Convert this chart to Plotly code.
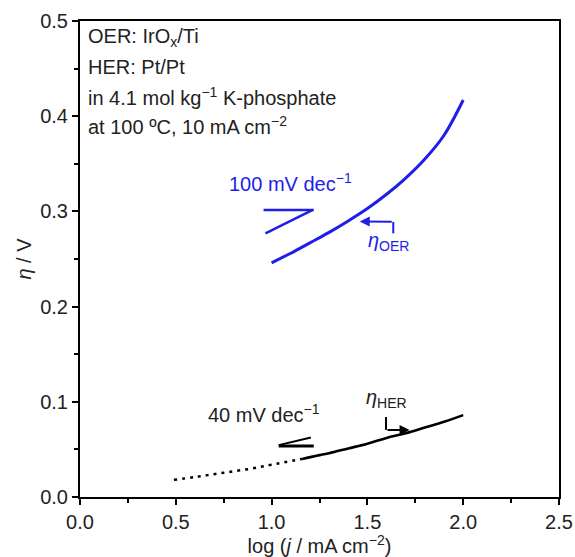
import plotly.graph_objects as go

# OER overpotential vs log j
oer_x = [1.0, 1.1, 1.2, 1.3, 1.4, 1.5, 1.6, 1.7, 1.8, 1.9, 2.0]
oer_y = [0.246, 0.256, 0.267, 0.278, 0.290, 0.303, 0.318, 0.335, 0.355, 0.380, 0.417]

# HER overpotential: dotted (low current) and solid parts
her_dot_x = [0.49, 0.6, 0.7, 0.8, 0.9, 1.0, 1.16]
her_dot_y = [0.018, 0.021, 0.024, 0.027, 0.030, 0.034, 0.040]
her_x = [1.16, 1.25, 1.3, 1.4, 1.5, 1.6, 1.7, 1.8, 1.9, 2.0]
her_y = [0.040, 0.044, 0.046, 0.051, 0.056, 0.062, 0.067, 0.073, 0.079, 0.086]

BLUE = "#1e1ee8"
FONT = "Liberation Sans, Arial, sans-serif"
TXT = "#222222"
FS = 20

fig = go.Figure()
fig.add_trace(go.Scatter(x=oer_x, y=oer_y, mode="lines",
                         line=dict(color=BLUE, width=3, shape="spline"), showlegend=False))
fig.add_trace(go.Scatter(x=her_dot_x, y=her_dot_y, mode="lines",
                         line=dict(color="black", width=2.5, dash="3px,5px", shape="spline"),
                         showlegend=False))
fig.add_trace(go.Scatter(x=her_x, y=her_y, mode="lines",
                         line=dict(color="black", width=2.6, shape="spline"), showlegend=False))

shapes = [
    # OER slope triangle (100 mV/dec)
    dict(type="line", x0=0.958, y0=0.3015, x1=1.220, y1=0.3015, line=dict(color=BLUE, width=2.5)),
    dict(type="line", x0=0.968, y0=0.277, x1=1.215, y1=0.3015, line=dict(color=BLUE, width=2.5)),
    # OER arrow bracket
    dict(type="line", x0=1.635, y0=0.289, x1=1.635, y1=0.277, line=dict(color=BLUE, width=2)),
    # HER slope triangle (40 mV/dec)
    dict(type="line", x0=1.037, y0=0.0535, x1=1.22, y1=0.0535, line=dict(color="black", width=3)),
    dict(type="line", x0=1.037, y0=0.0545, x1=1.205, y1=0.0625, line=dict(color="black", width=2)),
    # HER arrow bracket
    dict(type="line", x0=1.597, y0=0.084, x1=1.597, y1=0.0705, line=dict(color="black", width=2)),
]

W, H = 575, 557
L, R, T, B = 80, 16, 21, 60
pw, ph = W - L - R, H - T - B

anns = []
info = ["OER: IrO<sub>x</sub>/Ti", "HER: Pt/Pt",
        "in 4.1 mol kg<sup>−1</sup> K-phosphate", "at 100 ºC, 10 mA cm<sup>−2</sup>"]
for i, t in enumerate(info):
    anns.append(dict(x=(86 - L) / pw, y=1 - (38 + 29 * i - T) / ph, xref="paper", yref="paper",
                     text=t, showarrow=False, xanchor="left", yanchor="middle",
                     font=dict(size=FS, color=TXT, family=FONT)))

anns += [
    dict(x=1.10, y=0.330, text="100 mV dec<sup>−1</sup>", showarrow=False, xanchor="center",
         font=dict(size=FS, color=BLUE, family=FONT)),
    dict(x=1.46, y=0.2895, ax=1.635, ay=0.289, xref="x", yref="y", axref="x", ayref="y",
         text="", showarrow=True, arrowhead=2, arrowsize=1, arrowwidth=2, arrowcolor=BLUE),
    dict(x=1.61, y=0.268, text="<i>η</i><sub>OER</sub>", showarrow=False, xanchor="center",
         font=dict(size=FS, color=BLUE, family=FONT)),
    dict(x=0.96, y=0.088, text="40 mV dec<sup>−1</sup>", showarrow=False, xanchor="center",
         font=dict(size=FS, color=TXT, family=FONT)),
    dict(x=1.72, y=0.0705, ax=1.597, ay=0.0705, xref="x", yref="y", axref="x", ayref="y",
         text="", showarrow=True, arrowhead=2, arrowsize=1, arrowwidth=2, arrowcolor="black"),
    dict(x=1.60, y=0.103, text="<i>η</i><sub>HER</sub>", showarrow=False, xanchor="center",
         font=dict(size=FS, color=TXT, family=FONT)),
]

fig.update_layout(
    width=W, height=H, margin=dict(l=L, r=R, t=T, b=B),
    paper_bgcolor="white", plot_bgcolor="white",
    shapes=shapes, annotations=anns,
    font=dict(family=FONT, size=FS, color=TXT),
    xaxis=dict(range=[0, 2.5], showgrid=False, zeroline=False, showline=True, linewidth=2,
               linecolor="black", mirror=True, ticks="outside", ticklen=6, tickwidth=2,
               tickcolor="black", dtick=0.5, tick0=0, tickformat=".1f", automargin=False,
               minor=dict(ticks="outside", ticklen=4, tickwidth=1.5, tickcolor="black", dtick=0.25),
               title=dict(text="log (<i>j</i> / mA cm<sup>−2</sup>)", standoff=0,
                          font=dict(size=FS, color=TXT)),
               tickfont=dict(size=FS, color=TXT)),
    yaxis=dict(range=[0, 0.5], showgrid=False, zeroline=False, showline=True, linewidth=2,
               linecolor="black", mirror=True, ticks="outside", ticklen=6, tickwidth=2,
               tickcolor="black", dtick=0.1, tick0=0, tickformat=".1f", automargin=False,
               minor=dict(ticks="outside", ticklen=4, tickwidth=1.5, tickcolor="black", dtick=0.05),
               title=dict(text="<i>η</i> / V", standoff=3, font=dict(size=FS, color=TXT)),
               tickfont=dict(size=FS, color=TXT)),
)

fig.write_html("out.html")
